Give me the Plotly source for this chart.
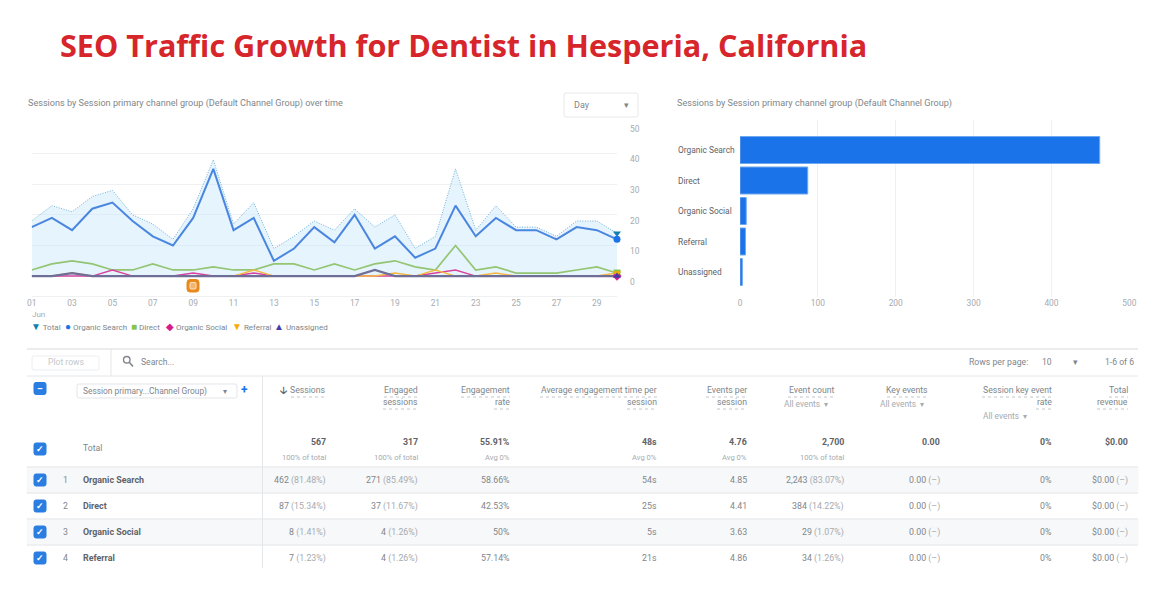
import plotly.graph_objects as go

W = 1170
H = 593

days = list(range(1, 31))
day_ticks = list(range(1, 30, 2))
day_labels = [f"{d:02d}" for d in day_ticks]

total = [18, 23, 21, 26, 28, 20, 17, 12, 22, 38, 17, 24, 9, 13, 18, 15, 22, 16, 20, 9, 13, 35, 15, 23, 16, 16, 13, 18, 18, 14]
organic_search = [16, 19, 15, 22, 24, 18, 13, 10, 19, 35, 15, 19, 5, 9, 16, 11, 20, 9, 13, 6, 9, 23, 13, 19, 15, 15, 12, 16, 15, 12]
direct = [2, 4, 5, 4, 2, 2, 4, 2, 2, 3, 2, 2, 4, 4, 2, 4, 2, 4, 5, 3, 2, 10, 2, 3, 1, 1, 1, 2, 3, 1]
organic_social = [0, 0, 0, 0, 2, 0, 0, 0, 1, 0, 0, 1, 0, 0, 0, 0, 0, 0, 0, 0, 1, 2, 0, 0, 0, 0, 0, 0, 0, 0]
referral = [0, 0, 1, 0, 0, 0, 0, 0, 0, 0, 0, 2, 0, 0, 0, 0, 0, 0, 1, 0, 2, 0, 0, 1, 0, 0, 0, 0, 0, 1]
unassigned = [0, 0, 1, 0, 0, 0, 0, 0, 0, 0, 0, 0, 0, 0, 0, 0, 0, 2, 0, 0, 0, 0, 0, 0, 0, 0, 0, 0, 0, 0]

channels = ["Organic Search", "Direct", "Organic Social", "Referral", "Unassigned"]
channel_sessions = [462, 87, 8, 7, 3]

legend_names = ["Total", "Organic Search", "Direct", "Organic Social", "Referral", "Unassigned"]
legend_marks = ["▼", "●", "■", "◆", "▼", "▲"]
legend_colors = ["#0f7fb5", "#1a73e8", "#8bc34a", "#d81b8c", "#f9ab00", "#3f3fa8"]
legend_x = [31, 65, 131, 166, 232, 274]

total_main = ["567", "317", "55.91%", "48s", "4.76", "2,700", "0.00", "0%", "$0.00"]
total_sub = ["100% of total", "100% of total", "Avg 0%", "Avg 0%", "Avg 0%", "100% of total", "", "", ""]
row_names = ["Organic Search", "Direct", "Organic Social", "Referral"]
row_cells = [
    [("462", "81.48%"), ("271", "85.49%"), ("58.66%", ""), ("54s", ""), ("4.85", ""), ("2,243", "83.07%"), ("0.00", "–"), ("0%", ""), ("$0.00", "–")],
    [("87", "15.34%"), ("37", "11.67%"), ("42.53%", ""), ("25s", ""), ("4.41", ""), ("384", "14.22%"), ("0.00", "–"), ("0%", ""), ("$0.00", "–")],
    [("8", "1.41%"), ("4", "1.26%"), ("50%", ""), ("5s", ""), ("3.63", ""), ("29", "1.07%"), ("0.00", "–"), ("0%", ""), ("$0.00", "–")],
    [("7", "1.23%"), ("4", "1.26%"), ("57.14%", ""), ("21s", ""), ("4.86", ""), ("34", "1.26%"), ("0.00", "–"), ("0%", ""), ("$0.00", "–")],
]

# pixel layout of the table
col_right = [326, 418, 510, 657, 747, 844, 940, 1052, 1128]
row_y = [480, 506, 532, 558]
row_lines = [467, 493, 519, 545]
headers = [
    (326, 390, "Sessions", 291), (418, 390, "Engaged", 384), (418, 402, "sessions", 383),
    (510, 390, "Engagement", 461), (510, 402, "rate", 494),
    (657, 390, "Average engagement time per", 540), (657, 402, "session", 627),
    (747, 390, "Events per", 706), (747, 402, "session", 717),
    (834, 390, "Event count", 788), (928, 390, "Key events", 887),
    (1052, 390, "Session key event", 982), (1052, 402, "rate", 1036),
    (1128, 390, "Total", 1109), (1128, 402, "revenue", 1097),
]
event_pickers = [(784, 404), (880, 404), (983, 416)]

FONT = "Roboto"
DARK = "#5f6368"
GREY = "#80868b"
LIGHT = "#a6abb0"
LINE = "#e4e6e8"
BLUE = "#1a73e8"

annotations = []
shapes = []


def px(x):
    return x / W


def py(y):
    return 1 - y / H


def label(x, y, text, size=8.7, color=DARK, anchor="left"):
    annotations.append(dict(x=px(x), y=py(y), xref="paper", yref="paper", text=text, showarrow=False,
                            xanchor=anchor, yanchor="middle", borderpad=0, borderwidth=0,
                            font=dict(family=FONT, size=size, color=color)))


def rule(x0, y0, x1, y1, color=LINE, width=1, dash="solid"):
    shapes.append(dict(type="line", xref="paper", yref="paper", x0=px(x0), y0=py(y0), x1=px(x1), y1=py(y1),
                       line=dict(color=color, width=width, dash=dash), layer="below"))


def box(x0, y0, x1, y1, fill="rgba(0,0,0,0)", border=None, r=2, layer="below"):
    a, b, c, d = px(x0), py(y0), px(x1), py(y1)
    rx, ry = r / W, r / H
    path = (f"M {a + rx} {b} L {c - rx} {b} Q {c} {b} {c} {b - ry} L {c} {d + ry} Q {c} {d} {c - rx} {d} "
            f"L {a + rx} {d} Q {a} {d} {a} {d + ry} L {a} {b - ry} Q {a} {b} {a + rx} {b} Z")
    shapes.append(dict(type="path", xref="paper", yref="paper", path=path, fillcolor=fill, layer=layer,
                       line=dict(color=border or fill, width=1)))


def checkbox(y, mark="✓"):
    box(34, y - 6, 46, y + 6, fill="#2a7de1", r=2)
    label(40, y, f"<b>{mark}</b>", size=9, color="white", anchor="center")


fig = go.Figure()

fig.add_trace(go.Scatter(x=days, y=total, mode="lines", fill="tozeroy", fillcolor="rgba(200,230,250,0.45)",
                         line=dict(color="#6fb1d3", width=1, dash="1px,1.5px"), showlegend=False))
fig.add_trace(go.Scatter(x=days, y=organic_search, mode="lines", line=dict(color="#4a86e0", width=2), showlegend=False))
fig.add_trace(go.Scatter(x=days, y=direct, mode="lines", line=dict(color="#93c572", width=1.7), showlegend=False))
fig.add_trace(go.Scatter(x=days, y=organic_social, mode="lines", line=dict(color="#d8439f", width=1.5), showlegend=False))
fig.add_trace(go.Scatter(x=days, y=referral, mode="lines", line=dict(color="#f5b942", width=1.5), showlegend=False))
fig.add_trace(go.Scatter(x=days, y=unassigned, mode="lines", line=dict(color="#6f6e96", width=2.2), showlegend=False))

# end of line markers
line_series = [total, organic_search, direct, organic_social, referral, unassigned]
end_symbols = ["triangle-down", "circle", "square", "diamond", "triangle-down", "triangle-up"]
for name, series, sym, col in zip(legend_names, line_series, end_symbols, legend_colors):
    fig.add_trace(go.Scatter(x=[days[-1]], y=[series[-1]], mode="markers", name=name, showlegend=False, cliponaxis=False,
                             marker=dict(symbol=sym, size=7, color=col)))

fig.add_trace(go.Bar(x=channel_sessions, y=channels, orientation="h", xaxis="x2", yaxis="y2",
                     marker=dict(color=BLUE, line=dict(color="#6ea8f0", width=1)), showlegend=False))

for name, mark, col, x in zip(legend_names, legend_marks, legend_colors, legend_x):
    label(x, 326.5, f'<span style="color:{col};font-size:10px">{mark}</span> {name}', size=8, color=GREY)

label(38, 314.5, "Jun", size=8, color=LIGHT, anchor="center")

for name in channels:
    annotations.append(dict(x=px(676.5), xref="paper", y=name, yref="y2", text=name, showarrow=False, xanchor="left",
                            yanchor="middle", borderpad=0, font=dict(family=FONT, size=8.4, color=DARK)))

# chart headers
label(27.5, 103.5, "Sessions by Session primary channel group (Default Channel Group) over time", size=9.1, color=GREY)
label(676.5, 103.5, "Sessions by Session primary channel group (Default Channel Group)", size=9.1, color=GREY)
box(564, 93, 638, 117, fill="white", border="#e6e8ea", r=2)
label(574, 104.5, "Day", size=9, color=GREY)
label(626, 104.5, "▾", size=9, color=GREY, anchor="center")

# orange note flag under day 9
box(187, 279.5, 199, 292, fill="#e8891c", r=3)
box(190, 282.5, 196, 289, fill="#f3b46d", border="#fbe3c8", r=1)

# toolbar
rule(27, 349, 1138, 349, width=1.5)
rule(27, 376, 1138, 376)
rule(111, 349, 111, 376)
box(32, 356, 99, 370, border="#eceef0", r=2)
label(66, 362, "Plot rows", size=8.6, color="#c4c7ca", anchor="center")
shapes.append(dict(type="circle", xref="paper", yref="paper", x0=px(123.5), y0=py(356.5), x1=px(130), y1=py(363),
                   line=dict(color=GREY, width=1.4), layer="below"))
rule(129.5, 362.5, 133, 366.5, color=GREY, width=1.6)
label(141, 362, "Search...", size=8.6, color=GREY)
label(969, 362, "Rows per page:", size=8.7, color=GREY)
label(1042, 362, "10", size=8.6, color=GREY)
label(1075, 362, "▾", size=9, color=GREY, anchor="center")
label(1134, 362, "1-6 of 6", size=8.6, color=GREY, anchor="right")

# table frame
box(27, 467, 1138, 493, fill="#f7f8f9", r=0)
box(27, 519, 1138, 545, fill="#f7f8f9", r=0)
for y in row_lines:
    rule(27, y, 1138, y)
rule(262.5, 376, 262.5, 568)

box(77, 384, 237, 398, border="#e3e5e7", r=2)
label(83, 391, "Session primary...Channel Group)", size=8.4, color=GREY)
label(225, 391, "▾", size=8, color=GREY, anchor="center")
label(244, 390, "<b>+</b>", size=12, color=BLUE, anchor="center")
label(283, 390, "<b>🡣</b>", size=10, color=DARK, anchor="center")

for right, y, text, left in headers:
    label(right, y, text, color=GREY, anchor="right")
    rule(left, y + 7, right, y + 7, color="#b5b8bb", width=0.8, dash="dot")
for x, y in event_pickers:
    label(x, y, "All events &nbsp;▾", size=8.4, color=LIGHT)

checkbox(388.5, "–")
checkbox(449)
label(82.5, 448, "Total", color=GREY)
for x, main, sub in zip(col_right, total_main, total_sub):
    label(x, 442, f"<b>{main}</b>", size=8.8, color=DARK, anchor="right")
    if sub:
        label(x, 457, sub, size=7.6, color=LIGHT, anchor="right")

for i, (name, y) in enumerate(zip(row_names, row_y)):
    checkbox(y)
    label(65, y, str(i + 1), color=GREY, anchor="center")
    label(82.5, y, f"<b>{name}</b>", size=8.9, color=DARK)
    for x, (value, share) in zip(col_right, row_cells[i]):
        text = value
        if share:
            text += f' <span style="color:{LIGHT}">({share})</span>'
        label(x, y, text, size=8.8, color=GREY, anchor="right")

fig.update_layout(
    width=W,
    height=H,
    margin=dict(l=0, r=0, t=0, b=0),
    paper_bgcolor="white",
    plot_bgcolor="rgba(0,0,0,0)",
    showlegend=False,
    font=dict(family=FONT, size=8.6, color=LIGHT),
    title=dict(text="<b>SEO Traffic Growth for Dentist in Hesperia, California</b>", x=60 / W, xanchor="left",
               y=py(46), yanchor="middle", font=dict(family="Open Sans", size=30.6, color="#d7252c")),
    xaxis=dict(domain=[px(31.7), px(617)], range=[1, 30], tickmode="array", tickvals=day_ticks, ticktext=day_labels,
               showgrid=False, zeroline=False, showline=True, linecolor="#eef0f2", ticks="", automargin=False,
               ticklabelstandoff=-1, tickfont=dict(size=8.4, color=LIGHT)),
    yaxis=dict(domain=[py(296), py(123)], range=[-6.5, 50], side="right", tickvals=[0, 10, 20, 30, 40, 50],
               gridcolor="#eef0f2", zeroline=False, ticklabelposition="outside bottom", ticklabelstandoff=12,
               automargin=False, tickfont=dict(size=8.4, color=LIGHT)),
    xaxis2=dict(domain=[px(740), px(1129.3)], range=[0, 500], anchor="y2", dtick=100, gridcolor="#eef0f2",
                zeroline=False, automargin=False, tickfont=dict(size=8.4, color=LIGHT)),
    yaxis2=dict(domain=[py(297), py(120)], range=[4.82, -0.984], anchor="x2", type="category", automargin=False,
                categoryorder="array", categoryarray=channels, showticklabels=False, showgrid=False, ticks=""),
    bargap=0.115,
    annotations=annotations,
    shapes=shapes,
)

fig.write_html("out.html", post_script="document.body.style.margin='0';", config={"displayModeBar": False})
